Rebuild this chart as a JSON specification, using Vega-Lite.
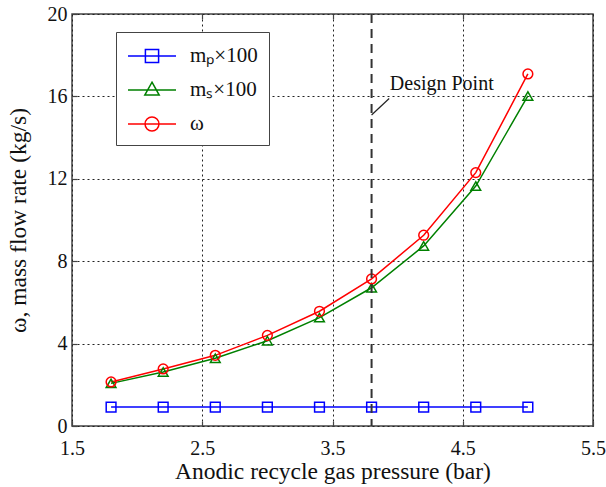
{
  "$schema": "https://vega.github.io/schema/vega-lite/v6.json",
  "width": 521,
  "height": 412,
  "autosize": {"type": "none"},
  "padding": {"left": 72, "top": 14, "right": 13, "bottom": 61},
  "background": "white",
  "datasets": {
    "flow": [
      {"p": 1.8, "s": "mₚ×100", "v": 0.92},
      {"p": 2.2, "s": "mₚ×100", "v": 0.92},
      {"p": 2.6, "s": "mₚ×100", "v": 0.92},
      {"p": 3.0, "s": "mₚ×100", "v": 0.92},
      {"p": 3.4, "s": "mₚ×100", "v": 0.92},
      {"p": 3.8, "s": "mₚ×100", "v": 0.92},
      {"p": 4.2, "s": "mₚ×100", "v": 0.92},
      {"p": 4.6, "s": "mₚ×100", "v": 0.92},
      {"p": 5.0, "s": "mₚ×100", "v": 0.92},
      {"p": 1.8, "s": "mₛ×100", "v": 2.07},
      {"p": 2.2, "s": "mₛ×100", "v": 2.62},
      {"p": 2.6, "s": "mₛ×100", "v": 3.29},
      {"p": 3.0, "s": "mₛ×100", "v": 4.14},
      {"p": 3.4, "s": "mₛ×100", "v": 5.26},
      {"p": 3.8, "s": "mₛ×100", "v": 6.71},
      {"p": 4.2, "s": "mₛ×100", "v": 8.74},
      {"p": 4.6, "s": "mₛ×100", "v": 11.65},
      {"p": 5.0, "s": "mₛ×100", "v": 16.02},
      {"p": 1.8, "s": "ω", "v": 2.14},
      {"p": 2.2, "s": "ω", "v": 2.77},
      {"p": 2.6, "s": "ω", "v": 3.43},
      {"p": 3.0, "s": "ω", "v": 4.40},
      {"p": 3.4, "s": "ω", "v": 5.57},
      {"p": 3.8, "s": "ω", "v": 7.14},
      {"p": 4.2, "s": "ω", "v": 9.26},
      {"p": 4.6, "s": "ω", "v": 12.30},
      {"p": 5.0, "s": "ω", "v": 17.09}
    ]
  },
  "config": {
    "font": "Liberation Serif",
    "view": {"stroke": "#444444", "strokeWidth": 1.5},
    "axis": {
      "labelFont": "Liberation Serif",
      "labelFontSize": 20,
      "labelColor": "#111111",
      "labelFlush": false,
      "titleFont": "Liberation Serif",
      "titleFontSize": 23.5,
      "titleFontWeight": "normal",
      "titleColor": "#111111",
      "domain": false,
      "tickColor": "#444444",
      "tickSize": -5,
      "tickWidth": 1.2,
      "grid": true,
      "gridColor": "#222222",
      "gridDash": [2, 3],
      "gridWidth": 1,
      "gridOpacity": 1
    },
    "legend": {
      "orient": "none",
      "legendX": 44,
      "legendY": 18,
      "padding": 11,
      "strokeColor": "#444444",
      "fillColor": "white",
      "labelFont": "Liberation Serif",
      "labelFontSize": 21,
      "labelColor": "#111111",
      "symbolSize": 576,
      "symbolStrokeWidth": 1.5,
      "symbolOpacity": 1,
      "labelOffset": 37,
      "rowPadding": 11
    }
  },
  "layer": [
    {
      "data": {"name": "flow"},
      "mark": {"type": "line", "strokeWidth": 1.5},
      "encoding": {
        "x": {
          "field": "p",
          "type": "quantitative",
          "title": "Anodic recycle gas pressure (bar)",
          "scale": {"domain": [1.5, 5.5], "nice": false, "zero": false},
          "axis": {"values": [1.5, 2.5, 3.5, 4.5, 5.5], "format": ".1f", "labelPadding": 17, "titlePadding": 1}
        },
        "y": {
          "field": "v",
          "type": "quantitative",
          "title": "ω, mass flow rate (kg/s)",
          "scale": {"domain": [0, 20], "nice": false},
          "axis": {"values": [0, 4, 8, 12, 16, 20], "labelPadding": 10, "titlePadding": 17}
        },
        "color": {
          "field": "s",
          "type": "nominal",
          "scale": {"domain": ["mₚ×100", "mₛ×100", "ω"], "range": ["#0000ff", "#008000", "#ff0000"]},
          "legend": null
        }
      }
    },
    {
      "data": {"name": "flow"},
      "mark": {"type": "point", "filled": false, "strokeWidth": 1.5, "size": 95, "opacity": 1},
      "encoding": {
        "x": {"field": "p", "type": "quantitative", "axis": null},
        "y": {"field": "v", "type": "quantitative", "axis": null},
        "color": {
          "field": "s",
          "type": "nominal",
          "scale": {"domain": ["mₚ×100", "mₛ×100", "ω"], "range": ["#0000ff", "#008000", "#ff0000"]},
          "legend": null
        },
        "shape": {
          "field": "s",
          "type": "nominal",
          "scale": {"domain": ["mₚ×100", "mₛ×100", "ω"], "range": ["square", "triangle-up", "circle"]},
          "legend": null
        }
      }
    },
    {
      "data": {"name": "flow"},
      "mark": {"type": "point", "filled": false, "opacity": 0},
      "encoding": {
        "x": {"field": "p", "type": "quantitative", "axis": null},
        "y": {"field": "v", "type": "quantitative", "axis": null},
        "color": {
          "field": "s",
          "type": "nominal",
          "title": null,
          "scale": {"domain": ["mₚ×100", "mₛ×100", "ω"], "range": ["#0000ff", "#008000", "#ff0000"]}
        },
        "shape": {
          "field": "s",
          "type": "nominal",
          "title": null,
          "scale": {
            "domain": ["mₚ×100", "mₛ×100", "ω"],
            "range": [
              "M-1,0H3M0.45,-0.55H1.55V0.55H0.45Z",
              "M-1,0H3M1,-0.65L1.6,0.42H0.4Z",
              "M-1,0H3M1.58,0A0.58,0.58,0,1,1,0.42,0A0.58,0.58,0,1,1,1.58,0Z"
            ]
          }
        }
      }
    },
    {
      "data": {"values": [{}]},
      "mark": {"type": "rule", "color": "#333333", "strokeWidth": 2, "strokeDash": [9, 6]},
      "encoding": {
        "x": {
          "datum": 3.8,
          "type": "quantitative",
          "axis": {"orient": "top", "values": [2.5, 3.5, 4.5], "labels": false, "grid": false, "title": null, "ticks": true}
        }
      }
    },
    {
      "data": {"values": [{}]},
      "mark": {"type": "rule", "color": "#222222", "strokeWidth": 1.2},
      "encoding": {
        "x": {"datum": 3.8, "type": "quantitative", "axis": null},
        "x2": {"datum": 3.935},
        "y": {
          "datum": 15.1,
          "type": "quantitative",
          "axis": {"orient": "right", "values": [4, 8, 12, 16], "labels": false, "grid": false, "title": null, "ticks": true}
        },
        "y2": {"datum": 15.9}
      }
    },
    {
      "data": {"values": [{}]},
      "mark": {"type": "text", "text": "Design Point", "font": "Liberation Serif", "fontSize": 20, "align": "left", "baseline": "middle", "color": "#111111"},
      "encoding": {
        "x": {"datum": 3.94, "type": "quantitative", "axis": null},
        "y": {"datum": 16.6, "type": "quantitative", "axis": null}
      }
    }
  ],
  "resolve": {
    "scale": {"shape": "independent", "color": "independent"},
    "axis": {"x": "independent", "y": "independent"}
  }
}
